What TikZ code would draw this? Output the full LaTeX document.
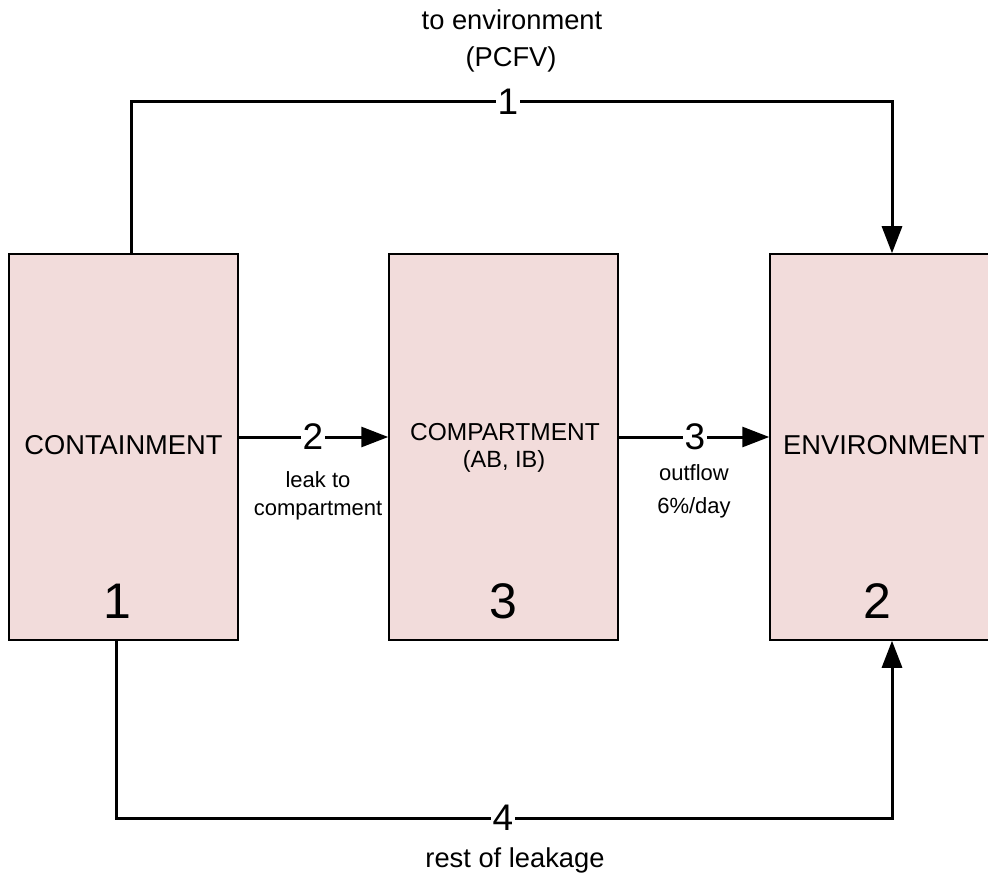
\documentclass[tikz,border=0pt]{standalone}
\usepackage{fontspec}
\setmainfont{Liberation Sans}
\usetikzlibrary{arrows.meta}
\definecolor{boxfill}{RGB}{242,220,219}
\begin{document}
\begin{tikzpicture}[x=1pt,y=-1pt,
  box/.style={draw=black, line width=1.5pt, fill=boxfill, minimum width=229pt, minimum height=386pt, inner sep=0pt},
  flow/.style={line width=3pt, -{Triangle[length=27pt,width=20pt]}},
  numlbl/.style={fill=white, inner sep=1.5pt, font=\fontsize{37}{41}\selectfont},
  boxnum/.style={inner sep=0pt, font=\fontsize{50}{55}\selectfont},
  bigtxt/.style={inner sep=0pt, font=\fontsize{27.3}{31}\selectfont},
  smalltxt/.style={inner sep=0pt, align=center, font=\fontsize{22}{28}\selectfont}
]
\useasboundingbox (0,0) rectangle (988,877);
\clip (0,0) rectangle (988,877);
\fill[white] (0,0) rectangle (988,877);

% boxes
\node[box] (cont) at (123.5,447) {};
\node[box] (comp) at (503.5,447) {};
\node[box] (env) at (884.5,447) {};

% box texts
\node[bigtxt] (contname) at (123.5,445) {CONTAINMENT};
\node[bigtxt] (envname) at (884,445) {ENVIRONMENT};
\node[inner sep=0pt, font=\fontsize{24.5}{28}\selectfont] (compname) at (505,432) {COMPARTMENT};
\node[inner sep=0pt, font=\fontsize{23.5}{27}\selectfont] (compsub) at (504,461) {(AB, IB)};
\node[boxnum] (cnum) at (117,601) {1};
\node[boxnum] (pnum) at (503,601) {3};
\node[boxnum] (enum) at (877,601) {2};

% connector 1 (top)
\coordinate (topmid) at (508,102);
\draw[flow] ([xshift=7.5pt]cont.north) |- (topmid) -| ([xshift=7.5pt]env.north);
\node[numlbl] (l1) at (topmid) {1};
\node[bigtxt] (t1) at (512,20) {to environment};
\node[bigtxt] (t1b) at (511,59) {(PCFV)};

% connector 4 (bottom)
\coordinate (botmid) at (503,818);
\draw[flow] ([xshift=-7.5pt]cont.south) |- (botmid) -| ([xshift=7.5pt]env.south);
\node[numlbl] (l4) at (botmid) {4};
\node[bigtxt] (t4) at (515,860) {rest of leakage};

% connector 2
\draw[flow] ([yshift=10pt]cont.east) -- ([yshift=10pt]comp.west);
\node[numlbl] (l2) at (313,437) {2};
\node[smalltxt] (t2) at (318,496) {leak to\\compartment};

% connector 3
\draw[flow] ([yshift=10pt]comp.east) -- ([yshift=10pt]env.west);
\node[numlbl] (l3) at (695,437) {3};
\node[smalltxt, font=\fontsize{22}{33}\selectfont] (t3) at (694,491) {outflow\\6\%/day};
\end{tikzpicture}
\end{document}
